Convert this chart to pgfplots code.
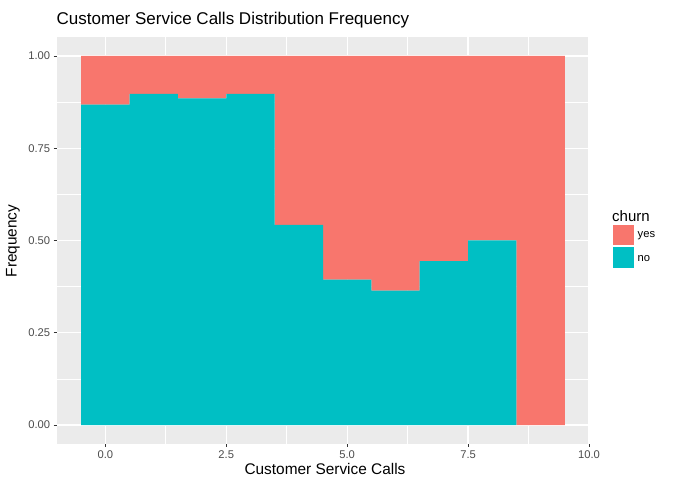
\documentclass[border=0pt]{standalone}
\usepackage{pgfplots}
\pgfplotsset{compat=1.18}
\usepackage{fontspec}
\setmainfont{Liberation Sans}
\definecolor{cyes}{HTML}{F8766D}
\definecolor{cno}{HTML}{00BFC4}
\definecolor{gray92}{HTML}{EBEBEB}
\definecolor{gray30}{HTML}{4D4D4D}
\definecolor{gray20}{HTML}{333333}
\begin{document}
\begin{tikzpicture}[x=1pt,y=1pt]
\fill[white] (0,0) rectangle (685,482);
\begin{axis}[
  at={(57pt,38.5pt)}, anchor=south west,
  width=532pt, height=406pt, scale only axis,
  xmin=-1, xmax=10, ymin=-0.05, ymax=1.05,
  axis background/.style={fill=gray92},
  axis line style={draw=none},
  xtick={0,2.5,5,7.5,10},
  ytick={0,0.25,0.5,0.75,1},
  minor xtick={1.25,3.75,6.25,8.75},
  minor ytick={0.125,0.375,0.625,0.875},
  grid=both,
  major grid style={white, line width=1.28pt},
  minor grid style={white, line width=0.64pt},
  tick align=outside,
  major tick length=3.3pt, minor tick length=0pt,
  tick style={gray20, line width=0.64pt},
  xtick pos=lower, ytick pos=left,
  xticklabel style={/pgf/number format/.cd, fixed, fixed zerofill, precision=1, assume math mode=true},
  yticklabel style={/pgf/number format/.cd, fixed, fixed zerofill, precision=2, assume math mode=true},
  tick label style={font=\fontsize{11.2}{13}\selectfont, text=gray30},
  ybar stacked, bar width=1, bar shift=0pt,
  clip=false,
]
\addplot[fill=cno, draw=none] coordinates {(0,0.868) (1,0.897) (2,0.885) (3,0.897) (4,0.542) (5,0.394) (6,0.364) (7,0.444) (8,0.5) (9,0)};
\addplot[fill=cyes, draw=none] coordinates {(0,0.132) (1,0.103) (2,0.115) (3,0.103) (4,0.458) (5,0.606) (6,0.636) (7,0.556) (8,0.5) (9,1)};
\end{axis}
% title and axis labels
\node[anchor=west, inner sep=0pt, font=\fontsize{17}{20}\selectfont] at (56.5,462) {Customer Service Calls Distribution Frequency};
\node[font=\fontsize{15.4}{18}\selectfont] at (325,13.5) {Customer Service Calls};
\node[rotate=90, font=\fontsize{15.4}{18}\selectfont] at (13,241) {Frequency};
% legend
\node[anchor=west, inner sep=0pt, font=\fontsize{15}{17}\selectfont] at (612,266) {churn};
\fill[cyes] (612.5,236.5) rectangle (633.5,257);
\fill[cno] (612.5,213.5) rectangle (633.5,234.5);
\node[anchor=west, inner sep=0pt, font=\fontsize{11.2}{13}\selectfont] at (637.5,246) {yes};
\node[anchor=west, inner sep=0pt, font=\fontsize{11.2}{13}\selectfont] at (637.5,223) {no};
\end{tikzpicture}
\end{document}
